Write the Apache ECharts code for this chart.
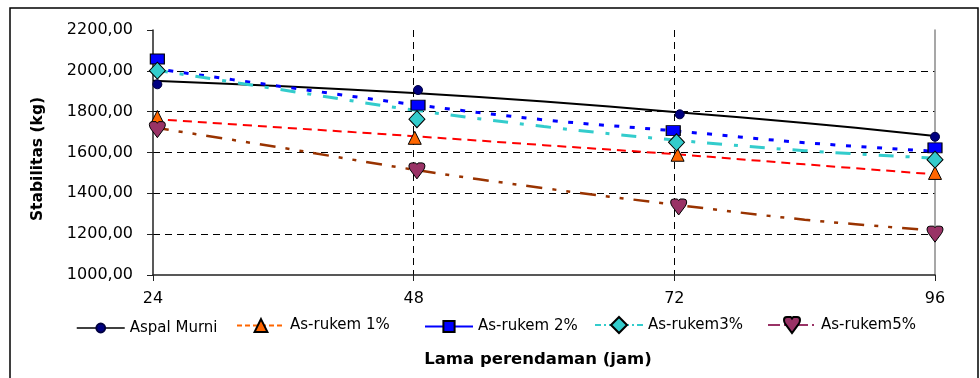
<!DOCTYPE html>
<html>
<head>
<meta charset="utf-8">
<script src="https://cdn.jsdelivr.net/npm/echarts@6/dist/echarts.min.js"></script>
<style>
  html, body { margin: 0; padding: 0; background: #ffffff; }
  #chart { width: 980px; height: 378px; }
</style>
</head>
<body>
<div id="chart"></div>
<script>
// Soaking time (hours) on the x axis
const xTicks = [24, 48, 72, 96];
const trendHours = [24, 36, 48, 60, 72, 84, 96];

// Measured stability (kg) per mixture
const aspalX  = [24.4, 48.4, 72.5, 96];
const aspalY  = [1934, 1906, 1787, 1677];
const rukem1X = [24.4, 48.1, 72.3, 96];
const rukem1Y = [1774, 1672, 1589, 1500];
const rukem2X = [24.4, 48.4, 71.9, 96];
const rukem2Y = [2058, 1832, 1707, 1623];
const rukem3X = [24.4, 48.3, 72.2, 96];
const rukem3Y = [2001, 1763, 1650, 1565];
const rukem5X = [24.4, 48.3, 72.4, 96];
const rukem5Y = [1712, 1510, 1333, 1200];

// Trend curves, sampled at trendHours
const aspalTrend  = [1952, 1925, 1891, 1850, 1798, 1745, 1681];
const rukem1Trend = [1764, 1722, 1680, 1636, 1592, 1542, 1493];
const rukem2Trend = [2012, 1922, 1835, 1760, 1706, 1648, 1606];
const rukem3Trend = [2006, 1906, 1808, 1727, 1661, 1609, 1572];
const rukem5Trend = [1723, 1622, 1516, 1425, 1345, 1271, 1218];

const seriesNames = ['Aspal Murni', 'As-rukem 1%', 'As-rukem 2%', 'As-rukem3%', 'As-rukem5%'];

// Y axis range (kg)
const yMin = 1000, yMax = 2200, yStep = 200;

// Downward heart-shaped marker
const heartPath = 'path://M0,1.8Q0,0 1.8,0L4.2,0L5,1L5.8,0L8.2,0Q10,0 10,1.8Q10,3.2 9.1,4.5L5,10L0.9,4.5Q0,3.2 0,1.8Z';

const groups = [
  { name: seriesNames[0], xs: aspalX, ys: aspalY, trend: aspalTrend,
    symbol: 'circle', size: 9, fill: '#000080', border: '#000040',
    trendStyle: { color: '#000000', width: 2, type: 'solid' },
    legend: { left: 76, h: 11, line: { color: '#000000', width: 1.5, type: 'solid', opacity: 1 } } },
  { name: seriesNames[1], xs: rukem1X, ys: rukem1Y, trend: rukem1Trend,
    symbol: 'triangle', size: [13, 13], fill: '#FF6600', border: '#000000',
    trendStyle: { color: '#FF0000', width: 2, type: [9, 6] },
    legend: { left: 236, h: 16, line: { color: '#FF6600', width: 2, type: [5, 3], opacity: 1 } } },
  { name: seriesNames[2], xs: rukem2X, ys: rukem2Y, trend: rukem2Trend,
    symbol: 'rect', size: [14, 10], fill: '#0000FF', border: '#000000',
    trendStyle: { color: '#0000FF', width: 3, type: [5, 10.5] },
    legend: { left: 424, h: 14, line: { color: '#0000FF', width: 2, type: 'solid', opacity: 1 } } },
  { name: seriesNames[3], xs: rukem3X, ys: rukem3Y, trend: rukem3Trend,
    symbol: 'diamond', size: [16, 17], fill: '#33CCCC', border: '#000000',
    trendStyle: { color: '#33CCCC', width: 3, type: [15, 12, 4, 12] },
    legend: { left: 594, h: 20, line: { color: '#33CCCC', width: 2, type: [6, 3, 2, 3], opacity: 1 } } },
  { name: seriesNames[4], xs: rukem5X, ys: rukem5Y, trend: rukem5Trend,
    symbol: heartPath, size: [16, 16], fill: '#993366', border: '#000000',
    trendStyle: { color: '#993300', width: 2.5, type: [16, 10, 4, 10, 4, 10] },
    legend: { left: 767, h: 20, line: { color: '#993366', width: 2, type: [12, 4, 2, 4, 2, 4], opacity: 1 } } }
];

const LEGEND_CY = 326;
const tickFont = { fontFamily: 'DejaVu Sans', fontSize: 16, color: '#000000' };

const series = [];
groups.forEach(g => {
  series.push({
    name: 'trend ' + g.name,
    type: 'line',
    data: trendHours.map((h, i) => [h, g.trend[i]]),
    smooth: 0.35,
    showSymbol: false,
    silent: true,
    clip: false,
    z: 2,
    lineStyle: g.trendStyle
  });
});
groups.forEach(g => {
  series.push({
    name: g.name,
    type: 'line',
    data: g.xs.map((x, i) => [x, g.ys[i]]),
    symbol: g.symbol,
    symbolSize: g.size,
    showSymbol: true,
    clip: false,
    z: 5,
    lineStyle: { width: 1, opacity: 0 },
    itemStyle: { color: g.fill, borderColor: g.border, borderWidth: 1 },
    emphasis: { disabled: true }
  });
});

const option = {
  animation: false,
  backgroundColor: '#ffffff',
  grid: { left: 153, top: 30, right: 45, bottom: 103 },
  xAxis: {
    type: 'value',
    min: xTicks[0], max: xTicks[xTicks.length - 1], interval: 24,
    axisLine: { lineStyle: { color: '#222222', width: 1.5 } },
    axisTick: { length: 6, lineStyle: { color: '#222222', width: 1 } },
    axisLabel: Object.assign({ margin: 16 }, tickFont),
    splitLine: { show: true, showMinLine: false, showMaxLine: false,
      lineStyle: { color: '#000000', width: 1, type: [7, 5] } }
  },
  yAxis: [{
    type: 'value',
    min: yMin, max: yMax, interval: yStep,
    axisLine: { show: true, lineStyle: { color: '#222222', width: 1.5 } },
    axisTick: { show: true, length: 6, lineStyle: { color: '#222222', width: 1 } },
    axisLabel: Object.assign({ margin: 20,
      formatter: v => v.toFixed(2).replace('.', ',') }, tickFont),
    splitLine: { show: true, showMinLine: false, showMaxLine: false,
      lineStyle: { color: '#000000', width: 1, type: [7, 5] } }
  }, {
    type: 'value',
    position: 'right',
    min: yMin, max: yMax, interval: yStep,
    axisLine: { show: true, lineStyle: { color: '#8a8a8a', width: 1.5 } },
    axisTick: { show: false },
    axisLabel: { show: false },
    splitLine: { show: false }
  }],
  legend: groups.map(g => ({
    data: [{ name: g.name, lineStyle: g.legend.line }],
    left: g.legend.left,
    top: LEGEND_CY - g.legend.h / 2,
    itemWidth: 48,
    itemHeight: g.legend.h,
    padding: 0,
    selectedMode: false,
    textStyle: { fontFamily: 'DejaVu Sans', fontSize: 15, color: '#000000' }
  })),
  graphic: [
    { type: 'rect', silent: true, z: 100,
      shape: { x: 10, y: 8, width: 968, height: 400 },
      style: { fill: 'none', stroke: '#000000', lineWidth: 1.5 } },
    { type: 'text', silent: true, x: 38, y: 159, rotation: Math.PI / 2,
      style: { text: 'Stabilitas (kg)', fontFamily: 'DejaVu Sans', fontWeight: 'bold',
        fontSize: 15.5, fill: '#000000', align: 'center', verticalAlign: 'middle' } },
    { type: 'text', silent: true, x: 538, y: 360,
      style: { text: 'Lama perendaman (jam)', fontFamily: 'DejaVu Sans', fontWeight: 'bold',
        fontSize: 16.5, fill: '#000000', align: 'center', verticalAlign: 'middle' } }
  ],
  series: series
};

const chart = echarts.init(document.getElementById('chart'), null, { renderer: 'canvas' });
chart.setOption(option);
</script>
</body>
</html>
